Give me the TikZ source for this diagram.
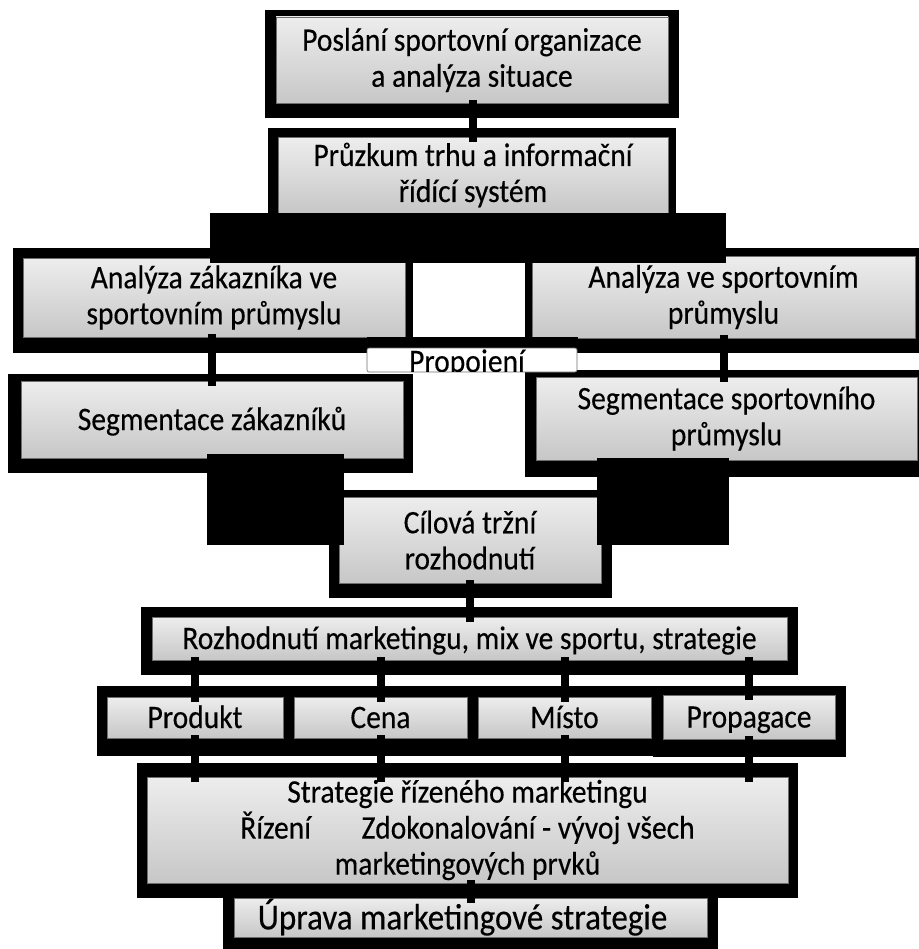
\documentclass[tikz,border=0pt]{standalone}
\usepackage{fontspec}
\setmainfont{Carlito}[FakeStretch=0.9,FakeBold=0.3]
\newcommand{\boxfont}{\fontsize{24.6}{27}\selectfont}
\newcommand{\bigboxfont}{\fontsize{27.5}{30}\selectfont}

\begin{document}
\begin{tikzpicture}[x=0.75pt,y=0.75pt,yscale=-1,xscale=1,
  frame/.style={fill=black},
  greybox/.style={draw={rgb,255:red,110;green,110;blue,110}, line width=0.5pt, top color=gray!14, bottom color=gray!44, inner sep=0pt, align=center, font=\boxfont},
  single/.style={text height=20pt, text depth=4.2pt},
  conn/.style={line width=6pt, shorten <=-2.25pt, shorten >=-3.75pt}]
\useasboundingbox (0,0) rectangle (919,949);

%Black frames behind the boxes
\path[frame] (265,10) rectangle (679,118);
\path[frame] (268,128) rectangle (676,220);
\path[frame] (13,248) rectangle (413,353);
\path[frame] (525,248) rectangle (919,353);
\path[frame] (8,374) rectangle (413,473);
\path[frame] (525,370) rectangle (919,477);
\path[frame] (329,490) rectangle (612,598);
\path[frame] (141,607) rectangle (798,675);
\path[frame] (97,686) rectangle (846,756);
\path[frame] (653,686) rectangle (846,757);
\path[frame] (137,763) rectangle (798,898);
\path[frame] (223,895) rectangle (718,949);

%Boxes
\node[greybox, minimum width=294pt, minimum height=64.5pt] (mission) at (472,60) {Poslání sportovní organizace\\a analýza situace};
\node[greybox, minimum width=292.5pt, minimum height=57pt] (research) at (473,175) {Průzkum trhu a informační\\řídící systém};
\node[greybox, minimum width=286.5pt, minimum height=59.25pt] (custan) at (214,297.5) {Analýza zákazníka ve\\sportovním průmyslu};
\node[greybox, minimum width=287.25pt, minimum height=61.5pt] (indan) at (723.5,297) {Analýza ve sportovním\\průmyslu};
\node[greybox, single, minimum width=286.5pt, minimum height=57.75pt] (custseg) at (212,419.5) {Segmentace zákazníků};
\node[greybox, minimum width=285.75pt, minimum height=62.25pt] (indseg) at (726.5,418.5) {Segmentace sportovního\\průmyslu};
\node[greybox, minimum width=196.5pt, minimum height=64.5pt] (target) at (470,540) {Cílová tržní\\rozhodnutí};
\node[greybox, single, minimum width=476.25pt, minimum height=32.25pt] (mix) at (469.5,638.5) {Rozhodnutí marketingu, mix ve sportu, strategie};
\node[greybox, single, minimum width=132pt, minimum height=30.75pt] (product) at (195,717.5) {Produkt};
\node[greybox, single, minimum width=129.75pt, minimum height=30.75pt] (price) at (380.5,717.5) {Cena};
\node[greybox, single, minimum width=129.75pt, minimum height=30.75pt] (place) at (564.5,717.5) {Místo};
\node[greybox, single, minimum width=129pt, minimum height=33pt] (promo) at (749,717) {Propagace};
\node[greybox, minimum width=480.75pt, minimum height=79.5pt] (strat) at (467.5,830) {Strategie řízeného marketingu\\Řízení\hspace*{38pt}Zdokonalování - vývoj všech\\marketingových prvků};
\node[greybox, single, text height=22pt, minimum width=354.75pt, minimum height=29.25pt, font=\bigboxfont] (adjust) at (470.5,917.5) {Úprava marketingové strategie\hspace*{12pt}};

%Black bars over the boxes
\path[frame] (210,213) rectangle (726,263);
\path[frame] (207,454) rectangle (344,545);
\path[frame] (597,458) rectangle (729,545);
\path[frame] (367,337) rectangle (578,350);

\node[draw={rgb,255:red,110;green,110;blue,110}, fill=white, rounded corners=1.5pt, line width=0.5pt, minimum width=157.5pt, minimum height=18pt, inner sep=0pt] (link) at (472,360) {};
\begin{scope}
\clip (367,348) rectangle (577,371.5);
\node[anchor=base, inner sep=0pt, font=\boxfont] (linktext) at (467,372) {Propojení};
\end{scope}

%Connectors
\draw[conn] (research.north |- mission.south) -- (research.north);
\draw[conn] (custseg.north |- custan.south) -- (custseg.north);
\draw[conn] (indan.south) -- (indan.south |- indseg.north);
\draw[conn] (target.south) -- (target.south |- mix.north);
\draw[conn] (product.north |- mix.south) -- (product.north);
\draw[conn] (price.north |- mix.south) -- (price.north);
\draw[conn] (place.north |- mix.south) -- (place.north);
\draw[conn] (promo.north |- mix.south) -- (promo.north);
\draw[conn] (product.south) -- (product.south |- strat.north);
\draw[conn] (price.south) -- (price.south |- strat.north);
\draw[conn] (place.south) -- (place.south |- strat.north);
\draw[conn] (promo.south) -- (promo.south |- strat.north);
\draw[conn] (adjust.north |- strat.south) -- (adjust.north);

\end{tikzpicture}
\end{document}
